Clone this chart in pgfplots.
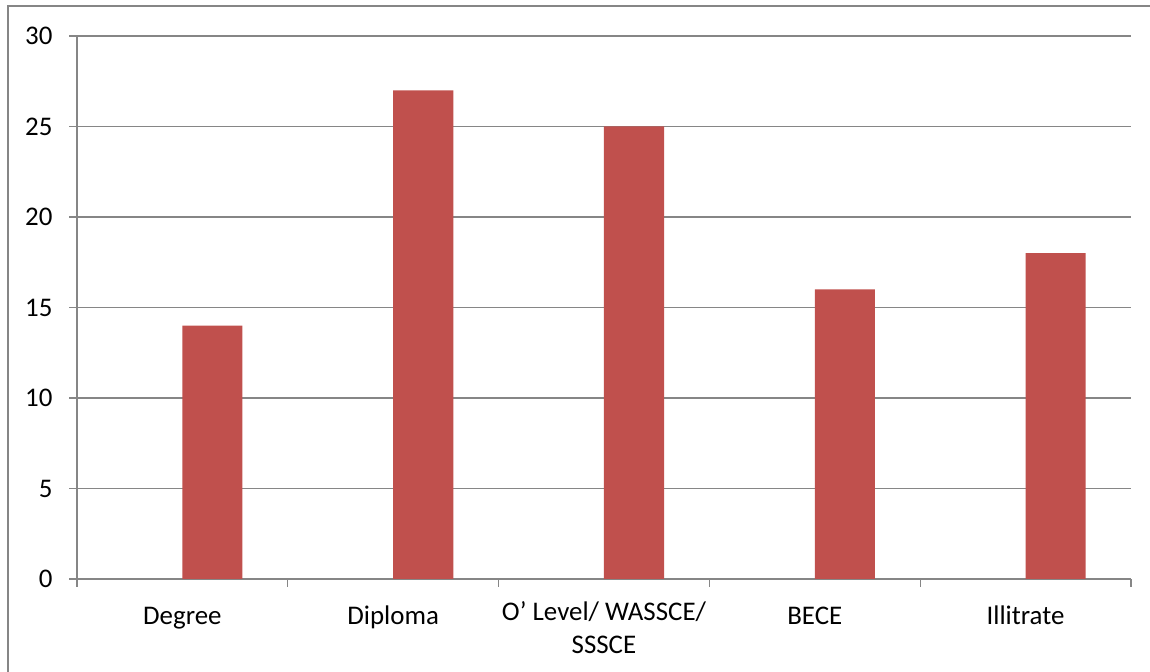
\documentclass[border=0pt]{standalone}
\usepackage{fontspec}
\setmainfont{Carlito}
\usepackage{pgfplots}
\pgfplotsset{compat=1.18}
\definecolor{barred}{HTML}{C0504D}
\definecolor{gridgray}{HTML}{868686}
\begin{document}
\begin{tikzpicture}[x=1bp,y=1bp]
\useasboundingbox (0,0) rectangle (1150,672);
\draw[gridgray, line width=1.5bp] (8,0) -- (8,666) -- (1150,666);
\begin{axis}[
  at={(77bp,93bp)}, anchor=south west,
  scale only axis, width=1054bp, height=543bp,
  xmin=-0.5, xmax=4.5, ymin=0, ymax=30,
  axis x line*=bottom, axis y line*=left,
  axis line style={gridgray, line width=1.2bp},
  every axis plot/.append style={draw=none},
  ytick={0,5,...,30},
  ymajorgrids, major grid style={gridgray, line width=1.2bp},
  xtick={0,...,4},
  xticklabels={Degree, Diploma, {O’ Level/ WASSCE/\\SSSCE}, BECE, Illitrate},
  minor xtick={-0.5,0.5,...,4.5},
  tick align=outside,
  major tick length=8bp, minor tick length=8bp,
  major x tick style={draw=none},
  tick style={gridgray, line width=1.2bp},
  minor tick style={gridgray, line width=1.2bp},
  /pgf/number format/assume math mode=true,
  tick label style={font=\fontsize{27}{33}\selectfont, text=black},
  xticklabel style={align=center, anchor=north, yshift=-11bp, execute at begin node=\strut},
  yticklabel style={xshift=-13bp},
  bar width=0.285, 
]
\addplot[ybar, fill=barred, draw=none, bar shift=0.1425] coordinates {
  (0,14) (1,27) (2,25) (3,16) (4,18)
};
\end{axis}
\end{tikzpicture}
\end{document}
